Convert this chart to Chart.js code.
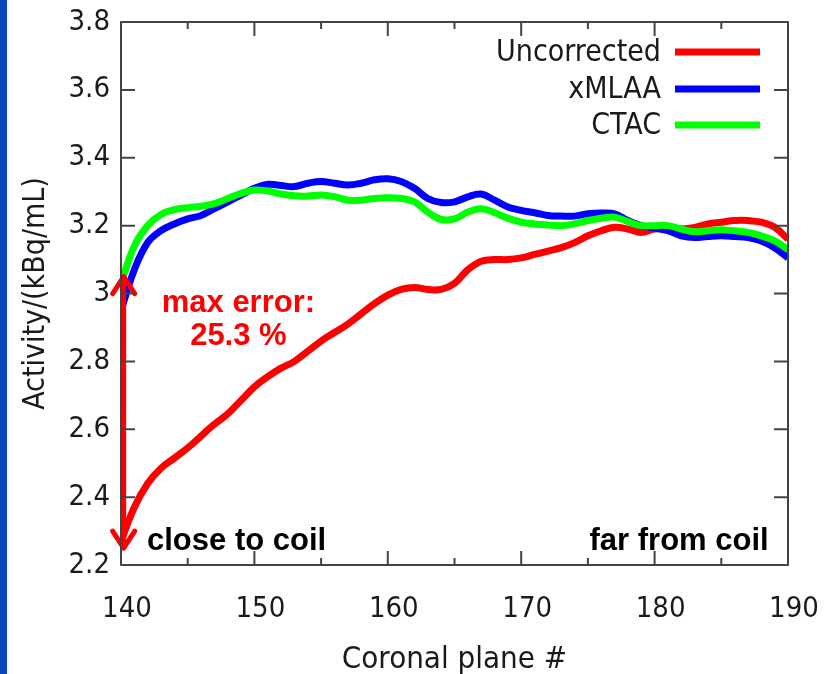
<!DOCTYPE html>
<html>
<head>
<meta charset="utf-8">
<script src="https://cdn.jsdelivr.net/npm/chart.js@4.4.1/dist/chart.umd.min.js"></script>
<style>
  html, body { margin: 0; padding: 0; background: #ffffff; }
  #wrap { position: relative; width: 834px; height: 674px; overflow: hidden; }
  #strip { position: absolute; left: 0; top: 0; width: 7px; height: 674px; background: #0b48bc; z-index: 2; }
  canvas { position: absolute; left: 0; top: 0; }
</style>
</head>
<body>
<div id="wrap">
  <div id="strip"></div>
  <canvas id="c" width="834" height="674"></canvas>
</div>
<script>
// ---- data ----
const planes = [140,141,142,143,144,145,146,147,148,149,150,151,152,153,154,155,156,157,158,159,160,
                161,162,163,164,165,166,167,168,169,170,171,172,173,174,175,176,177,178,179,180,
                181,182,183,184,185,186,187,188,189,190];

const uncorrected = [2.27,2.37,2.44,2.485,2.515,2.545,2.58,2.615,2.645,2.685,2.725,2.755,2.78,2.80,2.83,2.86,2.885,2.91,2.94,2.97,2.995,
                     3.012,3.018,3.012,3.012,3.03,3.07,3.095,3.10,3.10,3.105,3.115,3.125,3.135,3.15,3.17,3.185,3.195,3.19,3.18,3.19,
                     3.19,3.19,3.195,3.205,3.21,3.215,3.215,3.21,3.195,3.16];

const xmlaa = [2.95,3.07,3.15,3.185,3.205,3.22,3.23,3.25,3.27,3.29,3.31,3.322,3.318,3.315,3.325,3.33,3.325,3.32,3.325,3.335,3.338,
               3.33,3.31,3.28,3.268,3.27,3.285,3.293,3.275,3.255,3.245,3.238,3.23,3.228,3.228,3.235,3.237,3.235,3.215,3.2,3.193,
               3.185,3.17,3.165,3.168,3.17,3.168,3.165,3.155,3.135,3.105];

const ctac = [3.03,3.14,3.2,3.233,3.247,3.253,3.257,3.265,3.28,3.295,3.305,3.302,3.293,3.288,3.287,3.29,3.285,3.275,3.275,3.28,3.282,
              3.28,3.27,3.24,3.218,3.22,3.24,3.25,3.238,3.222,3.21,3.205,3.202,3.2,3.205,3.215,3.222,3.225,3.212,3.2,3.2,
              3.2,3.19,3.182,3.185,3.188,3.185,3.18,3.17,3.155,3.13];

const seriesNames = ['Uncorrected', 'xMLAA', 'CTAC'];
const seriesColors = ['#ff0000', '#0000ff', '#00ff00'];

const xTicks = [140,150,160,170,180,190];
const xMinorTicks = [145,155,165,175,185];
const yTicks = [2.2,2.4,2.6,2.8,3.0,3.2,3.4,3.6,3.8];
const yTickLabels = ['2.2','2.4','2.6','2.8','3','3.2','3.4','3.6','3.8'];

// annotation anchors in data units
const arrowX = 140.2, arrowTop = 3.05, arrowBottom = 2.25;
const notes = [
  { text: 'max error:', x: 148.8, y: 2.972, align: 'center', color: '#ff0000' },
  { text: '25.3 %',     x: 148.8, y: 2.872, align: 'center', color: '#ff0000' },
  { text: 'close to coil', x: 141.95, y: 2.27, align: 'left', color: '#000000' },
  { text: 'far from coil', x: 188.55, y: 2.27, align: 'right', color: '#000000' }
];

const TICK_FONT = '"DejaVu Sans Condensed", "DejaVu Sans", sans-serif';
const FRAME = '#444444';

const framePlugin = {
  id: 'frame',
  afterDatasetsDraw(chart) {
    const ctx = chart.ctx, a = chart.chartArea;
    const xs = chart.scales.x, ys = chart.scales.y;
    ctx.save();
    // arrow
    const ax = xs.getPixelForValue(arrowX);
    const at = ys.getPixelForValue(arrowTop);
    const ab = ys.getPixelForValue(arrowBottom);
    ctx.strokeStyle = '#ff0000';
    ctx.lineWidth = 5;
    ctx.lineCap = 'round';
    ctx.lineJoin = 'round';
    ctx.beginPath();
    ctx.moveTo(ax, at); ctx.lineTo(ax, ab);
    ctx.moveTo(ax - 11, at + 17); ctx.lineTo(ax, at); ctx.lineTo(ax + 11, at + 17);
    ctx.moveTo(ax - 11, ab - 17); ctx.lineTo(ax, ab); ctx.lineTo(ax + 11, ab - 17);
    ctx.stroke();

    // notes
    ctx.font = 'bold 31px "Liberation Sans", Arial, sans-serif';
    ctx.textBaseline = 'middle';
    notes.forEach(n => {
      ctx.fillStyle = n.color;
      ctx.textAlign = n.align;
      ctx.fillText(n.text, xs.getPixelForValue(n.x), ys.getPixelForValue(n.y));
    });

    // frame
    ctx.strokeStyle = FRAME;
    ctx.lineWidth = 2;
    ctx.lineCap = 'butt';
    ctx.strokeRect(a.left, a.top, a.right - a.left, a.bottom - a.top);
    ctx.beginPath();
    xTicks.forEach(v => {
      const p = xs.getPixelForValue(v);
      ctx.moveTo(p, a.bottom); ctx.lineTo(p, a.bottom - 14);
      ctx.moveTo(p, a.top); ctx.lineTo(p, a.top + 14);
    });
    xMinorTicks.forEach(v => {
      const p = xs.getPixelForValue(v);
      ctx.moveTo(p, a.bottom); ctx.lineTo(p, a.bottom - 7);
      ctx.moveTo(p, a.top); ctx.lineTo(p, a.top + 7);
    });
    yTicks.forEach(v => {
      const p = ys.getPixelForValue(v);
      ctx.moveTo(a.left, p); ctx.lineTo(a.left + 14, p);
      ctx.moveTo(a.right, p); ctx.lineTo(a.right - 14, p);
    });
    ctx.stroke();

    // legend
    ctx.font = '30px ' + TICK_FONT;
    ctx.textAlign = 'right';
    ctx.textBaseline = 'middle';
    const rows = [52, 89, 125];
    seriesNames.forEach((name, i) => {
      const y = a.top + (rows[i] - 22);
      ctx.fillStyle = '#1a1a1a';
      ctx.fillText(name, 661, y + 1);
      ctx.strokeStyle = seriesColors[i];
      ctx.lineWidth = 7;
      ctx.beginPath();
      ctx.moveTo(675, y); ctx.lineTo(760, y);
      ctx.stroke();
    });
    ctx.restore();
  }
};

const mk = (i, data, order) => ({
  label: seriesNames[i],
  data: planes.map((p, k) => ({ x: p, y: data[k] })),
  borderColor: seriesColors[i],
  backgroundColor: seriesColors[i],
  borderWidth: 7,
  pointRadius: 0,
  tension: 0.4,
  fill: false,
  order: order
});

new Chart(document.getElementById('c'), {
  type: 'line',
  data: {
    datasets: [mk(0, uncorrected, 2), mk(1, xmlaa, 1), mk(2, ctac, 0)]
  },
  options: {
    responsive: false,
    devicePixelRatio: 1,
    animation: false,
    layout: { padding: { top: 22, right: 46, left: 0, bottom: 0 } },
    plugins: { legend: { display: false }, tooltip: { enabled: false } },
    scales: {
      x: {
        type: 'linear', min: 140, max: 190,
        afterBuildTicks: s => { s.ticks = xTicks.map(v => ({ value: v })); },
        ticks: { font: { family: TICK_FONT, size: 29 }, color: '#1a1a1a', padding: 27, maxRotation: 0, labelOffset: 6 },
        grid: { display: false, drawTicks: false },
        border: { display: false },
        title: { display: true, text: 'Coronal plane #', color: '#1a1a1a',
                 font: { family: TICK_FONT, size: 31 }, padding: { top: 0, bottom: -5 } },
        afterFit: s => { s.height = 109; s.paddingLeft = 0; s.paddingRight = 0; }
      },
      y: {
        type: 'linear', min: 2.2, max: 3.8,
        afterBuildTicks: s => { s.ticks = yTicks.map(v => ({ value: v })); },
        ticks: { font: { family: TICK_FONT, size: 29 }, color: '#1a1a1a', padding: 11,
                 callback: (v) => yTickLabels[yTicks.findIndex(t => Math.abs(t - v) < 1e-6)] },
        grid: { display: false, drawTicks: false },
        border: { display: false },
        title: { display: true, text: 'Activity/(kBq/mL)', color: '#1a1a1a',
                 font: { family: TICK_FONT, size: 30 }, padding: { top: 18, bottom: 0 } },
        afterFit: s => { s.width = 121; s.paddingTop = 0; s.paddingBottom = 0; }
      }
    }
  },
  plugins: [framePlugin]
});
</script>
</body>
</html>
